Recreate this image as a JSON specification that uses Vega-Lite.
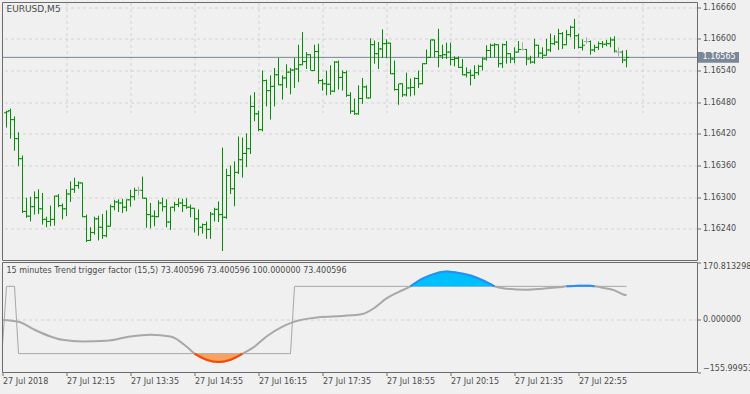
{
  "$schema": "https://vega.github.io/schema/vega-lite/v6.json",
  "width": 695,
  "height": 370,
  "autosize": {"type": "none"},
  "padding": {"left": 2.5, "top": 2.5, "right": 52.5, "bottom": 21.5},
  "background": "#f0f0f0",
  "config": {
    "font": "DejaVu Sans",
    "view": {"stroke": null},
    "axis": {"labelFont": "DejaVu Sans", "labelFontSize": 8, "labelColor": "#4b4b4b", "tickColor": "#6c6c6c", "gridColor": "#d2d2d2", "gridDash": [3, 3], "gridWidth": 1, "domain": false}
  },
  "datasets": {
    "bars": [
      {"i":1,"o":1.16460,"h":1.16464,"l":1.16432,"c":1.16462},
      {"i":2,"o":1.16464,"h":1.16468,"l":1.16411,"c":1.16447},
      {"i":3,"o":1.16447,"h":1.16453,"l":1.16388,"c":1.16411},
      {"i":4,"o":1.16411,"h":1.16423,"l":1.16359,"c":1.16373},
      {"i":5,"o":1.16373,"h":1.16379,"l":1.16270,"c":1.16273},
      {"i":6,"o":1.16273,"h":1.16299,"l":1.16261,"c":1.16264},
      {"i":7,"o":1.16264,"h":1.16301,"l":1.16254,"c":1.16282},
      {"i":8,"o":1.16282,"h":1.16311,"l":1.16267,"c":1.16299},
      {"i":9,"o":1.16299,"h":1.16315,"l":1.16268,"c":1.16278},
      {"i":10,"o":1.16278,"h":1.16308,"l":1.16248,"c":1.16258},
      {"i":11,"o":1.16258,"h":1.16263,"l":1.16243,"c":1.16254},
      {"i":12,"o":1.16254,"h":1.16284,"l":1.16245,"c":1.16258},
      {"i":13,"o":1.16258,"h":1.16303,"l":1.16246,"c":1.16302},
      {"i":14,"o":1.16302,"h":1.16306,"l":1.16281,"c":1.16284},
      {"i":15,"o":1.16284,"h":1.16288,"l":1.16258,"c":1.16278},
      {"i":16,"o":1.16278,"h":1.16315,"l":1.16264,"c":1.16306},
      {"i":17,"o":1.16306,"h":1.16330,"l":1.16291,"c":1.16315},
      {"i":18,"o":1.16315,"h":1.16337,"l":1.16308,"c":1.16322},
      {"i":19,"o":1.16322,"h":1.16330,"l":1.16316,"c":1.16327},
      {"i":20,"o":1.16327,"h":1.16328,"l":1.16262,"c":1.16263},
      {"i":21,"o":1.16263,"h":1.16267,"l":1.16215,"c":1.16218},
      {"i":22,"o":1.16218,"h":1.16243,"l":1.16217,"c":1.16233},
      {"i":23,"o":1.16233,"h":1.16263,"l":1.16229,"c":1.16259},
      {"i":24,"o":1.16259,"h":1.16265,"l":1.16218,"c":1.16243},
      {"i":25,"o":1.16243,"h":1.16268,"l":1.16221,"c":1.16227},
      {"i":26,"o":1.16227,"h":1.16275,"l":1.16224,"c":1.16245},
      {"i":27,"o":1.16245,"h":1.16286,"l":1.16244,"c":1.16282},
      {"i":28,"o":1.16282,"h":1.16295,"l":1.16275,"c":1.16291},
      {"i":29,"o":1.16291,"h":1.16296,"l":1.16272,"c":1.16289},
      {"i":30,"o":1.16289,"h":1.16297,"l":1.16270,"c":1.16281},
      {"i":31,"o":1.16281,"h":1.16296,"l":1.16273,"c":1.16295},
      {"i":32,"o":1.16295,"h":1.16314,"l":1.16282,"c":1.16301},
      {"i":33,"o":1.16301,"h":1.16318,"l":1.16294,"c":1.16313},
      {"i":34,"o":1.16313,"h":1.16320,"l":1.16303,"c":1.16313},
      {"i":35,"o":1.16313,"h":1.16339,"l":1.16297,"c":1.16298},
      {"i":36,"o":1.16298,"h":1.16299,"l":1.16242,"c":1.16267},
      {"i":37,"o":1.16267,"h":1.16289,"l":1.16241,"c":1.16264},
      {"i":38,"o":1.16264,"h":1.16275,"l":1.16245,"c":1.16263},
      {"i":39,"o":1.16263,"h":1.16294,"l":1.16262,"c":1.16289},
      {"i":40,"o":1.16289,"h":1.16299,"l":1.16273,"c":1.16282},
      {"i":41,"o":1.16282,"h":1.16296,"l":1.16243,"c":1.16253},
      {"i":42,"o":1.16253,"h":1.16282,"l":1.16238,"c":1.16281},
      {"i":43,"o":1.16281,"h":1.16291,"l":1.16273,"c":1.16286},
      {"i":44,"o":1.16286,"h":1.16298,"l":1.16281,"c":1.16289},
      {"i":45,"o":1.16289,"h":1.16297,"l":1.16272,"c":1.16284},
      {"i":46,"o":1.16284,"h":1.16298,"l":1.16278,"c":1.16281},
      {"i":47,"o":1.16281,"h":1.16286,"l":1.16262,"c":1.16279},
      {"i":48,"o":1.16279,"h":1.16280,"l":1.16233,"c":1.16259},
      {"i":49,"o":1.16259,"h":1.16277,"l":1.16227,"c":1.16243},
      {"i":50,"o":1.16243,"h":1.16250,"l":1.16231,"c":1.16248},
      {"i":51,"o":1.16248,"h":1.16254,"l":1.16221,"c":1.16239},
      {"i":52,"o":1.16239,"h":1.16272,"l":1.16221,"c":1.16268},
      {"i":53,"o":1.16268,"h":1.16280,"l":1.16254,"c":1.16277},
      {"i":54,"o":1.16277,"h":1.16292,"l":1.16253,"c":1.16267},
      {"i":55,"o":1.16267,"h":1.16394,"l":1.16198,"c":1.16262},
      {"i":56,"o":1.16262,"h":1.16354,"l":1.16259,"c":1.16341},
      {"i":57,"o":1.16341,"h":1.16360,"l":1.16306,"c":1.16316},
      {"i":58,"o":1.16316,"h":1.16368,"l":1.16283,"c":1.16347},
      {"i":59,"o":1.16347,"h":1.16415,"l":1.16344,"c":1.16371},
      {"i":60,"o":1.16371,"h":1.16413,"l":1.16337,"c":1.16383},
      {"i":61,"o":1.16383,"h":1.16421,"l":1.16357,"c":1.16392},
      {"i":62,"o":1.16392,"h":1.16493,"l":1.16382,"c":1.16472},
      {"i":63,"o":1.16472,"h":1.16499,"l":1.16444,"c":1.16458},
      {"i":64,"o":1.16458,"h":1.16464,"l":1.16425,"c":1.16428},
      {"i":65,"o":1.16428,"h":1.16540,"l":1.16425,"c":1.16521},
      {"i":66,"o":1.16521,"h":1.16523,"l":1.16472,"c":1.16502},
      {"i":67,"o":1.16502,"h":1.16531,"l":1.16447,"c":1.16510},
      {"i":68,"o":1.16510,"h":1.16545,"l":1.16472,"c":1.16532},
      {"i":69,"o":1.16532,"h":1.16564,"l":1.16512,"c":1.16513},
      {"i":70,"o":1.16513,"h":1.16531,"l":1.16485,"c":1.16526},
      {"i":71,"o":1.16526,"h":1.16552,"l":1.16507,"c":1.16537},
      {"i":72,"o":1.16537,"h":1.16545,"l":1.16495,"c":1.16541},
      {"i":73,"o":1.16541,"h":1.16564,"l":1.16507,"c":1.16543},
      {"i":74,"o":1.16543,"h":1.16589,"l":1.16518,"c":1.16551},
      {"i":75,"o":1.16551,"h":1.16613,"l":1.16550,"c":1.16557},
      {"i":76,"o":1.16557,"h":1.16575,"l":1.16543,"c":1.16570},
      {"i":77,"o":1.16570,"h":1.16571,"l":1.16540,"c":1.16540},
      {"i":78,"o":1.16540,"h":1.16589,"l":1.16539,"c":1.16576},
      {"i":79,"o":1.16576,"h":1.16591,"l":1.16515,"c":1.16521},
      {"i":80,"o":1.16521,"h":1.16524,"l":1.16502,"c":1.16515},
      {"i":81,"o":1.16515,"h":1.16540,"l":1.16493,"c":1.16514},
      {"i":82,"o":1.16514,"h":1.16550,"l":1.16494,"c":1.16501},
      {"i":83,"o":1.16501,"h":1.16558,"l":1.16499,"c":1.16556},
      {"i":84,"o":1.16556,"h":1.16559,"l":1.16504,"c":1.16527},
      {"i":85,"o":1.16527,"h":1.16540,"l":1.16502,"c":1.16536},
      {"i":86,"o":1.16536,"h":1.16540,"l":1.16490,"c":1.16493},
      {"i":87,"o":1.16493,"h":1.16499,"l":1.16458,"c":1.16463},
      {"i":88,"o":1.16463,"h":1.16487,"l":1.16456,"c":1.16458},
      {"i":89,"o":1.16458,"h":1.16512,"l":1.16456,"c":1.16487},
      {"i":90,"o":1.16487,"h":1.16526,"l":1.16477,"c":1.16509},
      {"i":91,"o":1.16509,"h":1.16512,"l":1.16487,"c":1.16488},
      {"i":92,"o":1.16488,"h":1.16601,"l":1.16487,"c":1.16589},
      {"i":93,"o":1.16589,"h":1.16597,"l":1.16553,"c":1.16572},
      {"i":94,"o":1.16572,"h":1.16594,"l":1.16543,"c":1.16581},
      {"i":95,"o":1.16581,"h":1.16618,"l":1.16564,"c":1.16591},
      {"i":96,"o":1.16591,"h":1.16599,"l":1.16564,"c":1.16592},
      {"i":97,"o":1.16592,"h":1.16593,"l":1.16533,"c":1.16534},
      {"i":98,"o":1.16534,"h":1.16559,"l":1.16502,"c":1.16504},
      {"i":99,"o":1.16504,"h":1.16515,"l":1.16475,"c":1.16515},
      {"i":100,"o":1.16515,"h":1.16516,"l":1.16490,"c":1.16494},
      {"i":101,"o":1.16494,"h":1.16536,"l":1.16491,"c":1.16507},
      {"i":102,"o":1.16507,"h":1.16525,"l":1.16491,"c":1.16508},
      {"i":103,"o":1.16508,"h":1.16527,"l":1.16493,"c":1.16525},
      {"i":104,"o":1.16525,"h":1.16540,"l":1.16507,"c":1.16515},
      {"i":105,"o":1.16515,"h":1.16554,"l":1.16514,"c":1.16553},
      {"i":106,"o":1.16553,"h":1.16580,"l":1.16552,"c":1.16565},
      {"i":107,"o":1.16565,"h":1.16599,"l":1.16564,"c":1.16598},
      {"i":108,"o":1.16598,"h":1.16599,"l":1.16565,"c":1.16576},
      {"i":109,"o":1.16576,"h":1.16619,"l":1.16546,"c":1.16568},
      {"i":110,"o":1.16568,"h":1.16589,"l":1.16562,"c":1.16570},
      {"i":111,"o":1.16570,"h":1.16593,"l":1.16562,"c":1.16575},
      {"i":112,"o":1.16575,"h":1.16593,"l":1.16550,"c":1.16561},
      {"i":113,"o":1.16561,"h":1.16567,"l":1.16548,"c":1.16563},
      {"i":114,"o":1.16563,"h":1.16567,"l":1.16545,"c":1.16546},
      {"i":115,"o":1.16546,"h":1.16562,"l":1.16531,"c":1.16532},
      {"i":116,"o":1.16532,"h":1.16546,"l":1.16527,"c":1.16536},
      {"i":117,"o":1.16536,"h":1.16542,"l":1.16512,"c":1.16531},
      {"i":118,"o":1.16531,"h":1.16550,"l":1.16524,"c":1.16536},
      {"i":119,"o":1.16536,"h":1.16551,"l":1.16531,"c":1.16548},
      {"i":120,"o":1.16548,"h":1.16565,"l":1.16540,"c":1.16562},
      {"i":121,"o":1.16562,"h":1.16588,"l":1.16559,"c":1.16578},
      {"i":122,"o":1.16578,"h":1.16591,"l":1.16564,"c":1.16588},
      {"i":123,"o":1.16588,"h":1.16592,"l":1.16565,"c":1.16589},
      {"i":124,"o":1.16589,"h":1.16590,"l":1.16546,"c":1.16553},
      {"i":125,"o":1.16553,"h":1.16591,"l":1.16545,"c":1.16589},
      {"i":126,"o":1.16589,"h":1.16596,"l":1.16553,"c":1.16572},
      {"i":127,"o":1.16572,"h":1.16573,"l":1.16554,"c":1.16562},
      {"i":128,"o":1.16562,"h":1.16584,"l":1.16554,"c":1.16575},
      {"i":129,"o":1.16575,"h":1.16596,"l":1.16574,"c":1.16580},
      {"i":130,"o":1.16580,"h":1.16594,"l":1.16578,"c":1.16580},
      {"i":131,"o":1.16580,"h":1.16581,"l":1.16550,"c":1.16562},
      {"i":132,"o":1.16562,"h":1.16568,"l":1.16553,"c":1.16556},
      {"i":133,"o":1.16556,"h":1.16600,"l":1.16553,"c":1.16588},
      {"i":134,"o":1.16588,"h":1.16589,"l":1.16565,"c":1.16573},
      {"i":135,"o":1.16573,"h":1.16584,"l":1.16562,"c":1.16569},
      {"i":136,"o":1.16569,"h":1.16600,"l":1.16568,"c":1.16579},
      {"i":137,"o":1.16579,"h":1.16610,"l":1.16575,"c":1.16591},
      {"i":138,"o":1.16591,"h":1.16607,"l":1.16588,"c":1.16594},
      {"i":139,"o":1.16594,"h":1.16619,"l":1.16579,"c":1.16610},
      {"i":140,"o":1.16610,"h":1.16613,"l":1.16581,"c":1.16589},
      {"i":141,"o":1.16589,"h":1.16617,"l":1.16588,"c":1.16608},
      {"i":142,"o":1.16608,"h":1.16625,"l":1.16603,"c":1.16622},
      {"i":143,"o":1.16622,"h":1.16638,"l":1.16581,"c":1.16606},
      {"i":144,"o":1.16606,"h":1.16610,"l":1.16582,"c":1.16584},
      {"i":145,"o":1.16584,"h":1.16599,"l":1.16578,"c":1.16588},
      {"i":146,"o":1.16595,"h":1.16603,"l":1.16591,"c":1.16595},
      {"i":147,"o":1.16595,"h":1.16597,"l":1.16570,"c":1.16579},
      {"i":148,"o":1.16579,"h":1.16589,"l":1.16575,"c":1.16584},
      {"i":149,"o":1.16584,"h":1.16595,"l":1.16579,"c":1.16591},
      {"i":150,"o":1.16591,"h":1.16596,"l":1.16583,"c":1.16590},
      {"i":151,"o":1.16590,"h":1.16598,"l":1.16586,"c":1.16591},
      {"i":152,"o":1.16591,"h":1.16603,"l":1.16584,"c":1.16598},
      {"i":153,"o":1.16598,"h":1.16605,"l":1.16574,"c":1.16577},
      {"i":154,"o":1.16575,"h":1.16584,"l":1.16567,"c":1.16575},
      {"i":155,"o":1.16575,"h":1.16578,"l":1.16554,"c":1.16560},
      {"i":156,"o":1.16560,"h":1.16579,"l":1.16546,"c":1.16565}
    ],
    "ttf": [
      {"i":0,"ttf":0},{"i":4,"ttf":-5},{"i":8,"ttf":-29},{"i":12,"ttf":-49},{"i":15,"ttf":-59},
      {"i":20,"ttf":-64},{"i":26,"ttf":-62},{"i":32,"ttf":-49},{"i":37,"ttf":-44},{"i":42,"ttf":-49},
      {"i":46,"ttf":-79},{"i":48,"ttf":-100},{"i":51,"ttf":-118},{"i":54,"ttf":-125},{"i":57,"ttf":-118},
      {"i":60,"ttf":-100},{"i":63,"ttf":-79},{"i":66,"ttf":-49},{"i":70,"ttf":-20},{"i":73,"ttf":-5},
      {"i":79,"ttf":8},{"i":85,"ttf":12},{"i":90,"ttf":18},{"i":93,"ttf":36},{"i":96,"ttf":64},
      {"i":99,"ttf":83},{"i":102,"ttf":100},{"i":105,"ttf":123},{"i":108,"ttf":137},{"i":111,"ttf":144},
      {"i":113,"ttf":142},{"i":117,"ttf":132},{"i":120,"ttf":118},{"i":123,"ttf":100},{"i":126,"ttf":93},
      {"i":131,"ttf":90},{"i":135,"ttf":93},{"i":139,"ttf":97},{"i":141,"ttf":100},{"i":144,"ttf":102},
      {"i":147,"ttf":101.5},{"i":148,"ttf":100},{"i":150,"ttf":96},{"i":153,"ttf":88},{"i":155,"ttf":76.5},
      {"i":156,"ttf":73.400596}
    ],
    "sig": [
      {"i":0,"sig":-75},{"i":1,"sig":100},{"i":3,"sig":100},{"i":4,"sig":-100},
      {"i":72,"sig":-100},{"i":73,"sig":100},{"i":156,"sig":100}
    ]
  },
  "resolve": {"scale": {"y": "independent"}, "axis": {"y": "independent"}},
  "layer": [
    {
      "layer": [
        {
          "data": {"name": "sig"},
          "mark": {"type": "line", "color": "#a8a8a8", "strokeWidth": 1},
          "encoding": {
            "x": {"field": "i", "type": "quantitative", "scale": {"domain": [0, 173.75], "nice": false, "zero": false},
                  "axis": {"values": [0,8,16,24,32,40,48,56,64,72,80,88,96,104,112,120,128,136,144,152,160,168],
                           "labelExpr": "(datum.value > 144 || datum.value % 16 != 0) ? '' : (datum.value == 0 ? '27 Jul 2018' : '27 Jul ' + floor((655 + 5 * datum.value) / 60) + ':' + pad(toString((655 + 5 * datum.value) % 60), 2, '0', 'left'))",
                           "labelAlign": "left", "labelBaseline": "top", "labelPadding": 2, "tickSize": 3, "labelOverlap": false, "labelFlush": false, "labelBound": false,
                           "tickOpacity": {"condition": {"test": "datum.value > 144 || datum.value % 16 != 0", "value": 0}, "value": 1},
                           "gridOpacity": {"condition": {"test": "datum.value == 0", "value": 0}, "value": 1},
                           "grid": true, "title": null}},
            "y": {"field": "sig", "type": "quantitative", "scale": {"domain": [-155.99953, 170.813298], "range": [370, 260], "nice": false, "zero": false},
                  "axis": {"orient": "right", "values": [-155.99953, 0, 170.813298], "format": ".6f", "tickSize": 3, "labelPadding": 2, "labelFlush": true,
                           "grid": true, "gridOpacity": {"condition": {"test": "datum.value == 0", "value": 1}, "value": 0}, "title": null}}
          }
        },
        {
          "data": {"name": "ttf"},
          "mark": {"type": "line", "color": "#a8a8a8", "strokeWidth": 2, "interpolate": "monotone"},
          "encoding": {
            "x": {"field": "i", "type": "quantitative", "scale": {"domain": [0, 173.75], "nice": false, "zero": false}},
            "y": {"field": "ttf", "type": "quantitative", "scale": {"domain": [-155.99953, 170.813298], "range": [370, 260], "nice": false, "zero": false}}
          }
        },
        {
          "data": {"name": "ttf"},
          "transform": [{"filter": "datum.ttf <= -100"}],
          "mark": {"type": "area", "color": "#f4a460", "opacity": 1, "interpolate": "monotone"},
          "encoding": {
            "x": {"field": "i", "type": "quantitative", "scale": {"domain": [0, 173.75], "nice": false, "zero": false}},
            "y": {"field": "ttf", "type": "quantitative", "scale": {"domain": [-155.99953, 170.813298], "range": [370, 260], "nice": false, "zero": false}},
            "y2": {"datum": -100}
          }
        },
        {
          "data": {"name": "ttf"},
          "transform": [{"filter": "datum.ttf >= 100 && datum.i < 130"}],
          "mark": {"type": "area", "color": "#00bfff", "opacity": 1, "interpolate": "monotone"},
          "encoding": {
            "x": {"field": "i", "type": "quantitative", "scale": {"domain": [0, 173.75], "nice": false, "zero": false}},
            "y": {"field": "ttf", "type": "quantitative", "scale": {"domain": [-155.99953, 170.813298], "range": [370, 260], "nice": false, "zero": false}},
            "y2": {"datum": 100}
          }
        },
        {
          "data": {"name": "ttf"},
          "transform": [{"filter": "datum.ttf <= -100"}],
          "mark": {"type": "line", "color": "#ff4500", "strokeWidth": 2, "interpolate": "monotone"},
          "encoding": {
            "x": {"field": "i", "type": "quantitative", "scale": {"domain": [0, 173.75], "nice": false, "zero": false}},
            "y": {"field": "ttf", "type": "quantitative", "scale": {"domain": [-155.99953, 170.813298], "range": [370, 260], "nice": false, "zero": false}}
          }
        },
        {
          "data": {"name": "ttf"},
          "transform": [{"filter": "datum.ttf >= 100 && datum.i < 130"}],
          "mark": {"type": "line", "color": "#1e90ff", "strokeWidth": 2, "interpolate": "monotone"},
          "encoding": {
            "x": {"field": "i", "type": "quantitative", "scale": {"domain": [0, 173.75], "nice": false, "zero": false}},
            "y": {"field": "ttf", "type": "quantitative", "scale": {"domain": [-155.99953, 170.813298], "range": [370, 260], "nice": false, "zero": false}}
          }
        },
        {
          "data": {"name": "ttf"},
          "transform": [{"filter": "datum.ttf >= 100 && datum.i > 130"}],
          "mark": {"type": "line", "color": "#1e90ff", "strokeWidth": 2, "interpolate": "monotone"},
          "encoding": {
            "x": {"field": "i", "type": "quantitative", "scale": {"domain": [0, 173.75], "nice": false, "zero": false}},
            "y": {"field": "ttf", "type": "quantitative", "scale": {"domain": [-155.99953, 170.813298], "range": [370, 260], "nice": false, "zero": false}}
          }
        },
        {
          "data": {"values": [{}]},
          "mark": {"type": "rect", "filled": false, "stroke": "#6c6c6c", "strokeWidth": 1},
          "encoding": {
            "x": {"datum": 0, "type": "quantitative", "scale": {"domain": [0, 173.75], "nice": false, "zero": false}},
            "x2": {"datum": 173.75},
            "y": {"datum": -155.99953, "type": "quantitative", "scale": {"domain": [-155.99953, 170.813298], "range": [370, 260], "nice": false, "zero": false}},
            "y2": {"datum": 170.813298}
          }
        },
        {
          "data": {"values": [{"label": "15 minutes Trend trigger factor (15,5) 73.400596 73.400596 100.000000 73.400596", "pos": 1, "val": 145.6}]},
          "mark": {"type": "text", "fontSize": 8, "font": "DejaVu Sans", "align": "left", "baseline": "middle", "color": "#4b4b4b"},
          "encoding": {
            "x": {"field": "pos", "type": "quantitative", "scale": {"domain": [0, 173.75], "nice": false, "zero": false}},
            "y": {"field": "val", "type": "quantitative", "scale": {"domain": [-155.99953, 170.813298], "range": [370, 260], "nice": false, "zero": false}},
            "text": {"field": "label"}
          }
        }
      ]
    },
    {
      "layer": [
        {
          "data": {"values": [{}]},
          "mark": {"type": "rule", "color": "#7a8797", "strokeWidth": 1},
          "encoding": {
            "y": {"datum": 1.16565, "type": "quantitative", "scale": {"domain": [1.1618, 1.16669], "range": [258, 0], "nice": false, "zero": false},
                  "axis": {"orient": "right", "values": [1.1624,1.163,1.1636,1.1642,1.1648,1.1654,1.166,1.1666], "format": ".5f", "tickSize": 3, "labelPadding": 2, "grid": true, "title": null}}
          }
        },
        {
          "data": {"name": "bars"},
          "mark": {"type": "rule", "strokeWidth": 1},
          "encoding": {
            "x": {"field": "i", "type": "quantitative", "scale": {"domain": [0, 173.75], "nice": false, "zero": false}},
            "y": {"field": "l", "type": "quantitative", "scale": {"domain": [1.1618, 1.16669], "range": [258, 0], "nice": false, "zero": false}},
            "y2": {"field": "h"},
            "color": {"condition": {"test": "datum.o == datum.c", "value": "#aaaaaa"}, "value": "#008f00"}
          }
        },
        {
          "data": {"name": "bars"},
          "mark": {"type": "rule", "strokeWidth": 1, "xOffset": -2.5, "x2Offset": -0.5},
          "encoding": {
            "x": {"field": "i", "type": "quantitative", "scale": {"domain": [0, 173.75], "nice": false, "zero": false}},
            "x2": {"field": "i"},
            "y": {"field": "o", "type": "quantitative", "scale": {"domain": [1.1618, 1.16669], "range": [258, 0], "nice": false, "zero": false}},
            "color": {"condition": {"test": "datum.o == datum.c", "value": "#aaaaaa"}, "value": "#008f00"}
          }
        },
        {
          "data": {"name": "bars"},
          "mark": {"type": "rule", "strokeWidth": 1, "xOffset": 0.5, "x2Offset": 2.5},
          "encoding": {
            "x": {"field": "i", "type": "quantitative", "scale": {"domain": [0, 173.75], "nice": false, "zero": false}},
            "x2": {"field": "i"},
            "y": {"field": "c", "type": "quantitative", "scale": {"domain": [1.1618, 1.16669], "range": [258, 0], "nice": false, "zero": false}},
            "color": {"condition": {"test": "datum.o == datum.c", "value": "#aaaaaa"}, "value": "#008f00"}
          }
        },
        {
          "data": {"values": [{}]},
          "mark": {"type": "rect", "filled": false, "stroke": "#6c6c6c", "strokeWidth": 1},
          "encoding": {
            "x": {"datum": 0, "type": "quantitative", "scale": {"domain": [0, 173.75], "nice": false, "zero": false}},
            "x2": {"datum": 173.75},
            "y": {"datum": 1.1618, "type": "quantitative", "scale": {"domain": [1.1618, 1.16669], "range": [258, 0], "nice": false, "zero": false}},
            "y2": {"datum": 1.16669}
          }
        },
        {
          "data": {"values": [{}]},
          "mark": {"type": "rect", "color": "#7a8797"},
          "encoding": {
            "x": {"datum": 173.875, "type": "quantitative", "scale": {"domain": [0, 173.75], "nice": false, "zero": false}},
            "x2": {"datum": 184.125},
            "y": {"datum": 1.165754, "type": "quantitative", "scale": {"domain": [1.1618, 1.16669], "range": [258, 0], "nice": false, "zero": false}},
            "y2": {"datum": 1.165546}
          }
        },
        {
          "data": {"values": [{"label": "1.16565", "pos": 175, "price": 1.16565}]},
          "mark": {"type": "text", "fontSize": 8, "font": "DejaVu Sans", "align": "left", "baseline": "middle", "color": "#ffffff"},
          "encoding": {
            "x": {"field": "pos", "type": "quantitative", "scale": {"domain": [0, 173.75], "nice": false, "zero": false}},
            "y": {"field": "price", "type": "quantitative", "scale": {"domain": [1.1618, 1.16669], "range": [258, 0], "nice": false, "zero": false}},
            "text": {"field": "label"}
          }
        },
        {
          "data": {"values": [{"label": "EURUSD,M5", "pos": 1, "price": 1.16656}]},
          "mark": {"type": "text", "fontSize": 9, "font": "DejaVu Sans", "align": "left", "baseline": "middle", "color": "#4b4b4b"},
          "encoding": {
            "x": {"field": "pos", "type": "quantitative", "scale": {"domain": [0, 173.75], "nice": false, "zero": false}},
            "y": {"field": "price", "type": "quantitative", "scale": {"domain": [1.1618, 1.16669], "range": [258, 0], "nice": false, "zero": false}},
            "text": {"field": "label"}
          }
        }
      ]
    }
  ]
}
